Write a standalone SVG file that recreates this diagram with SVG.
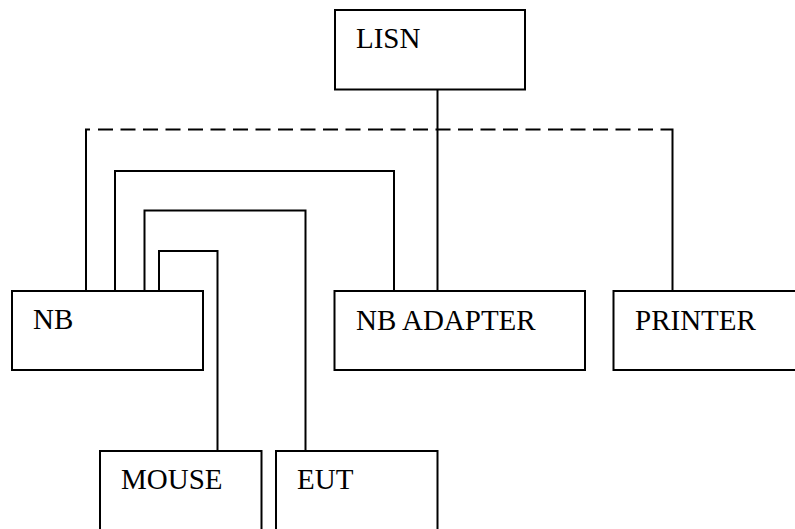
<svg xmlns="http://www.w3.org/2000/svg" width="795" height="529" viewBox="0 0 795 529">
<style>
.box{fill:#fff;stroke:#000;stroke-width:2}
.t{font-family:"Liberation Serif","Times New Roman",serif;font-size:29px;fill:#000}
.c{fill:none;stroke:#000;stroke-width:2}
.d{stroke-dasharray:15 7.5}
</style>
<rect width="795" height="529" fill="#fff"/>
<g id="connectors">
<path class="c" d="M86 291 V129.5 H90"/>
<path class="c d" d="M98 129.5 H665"/>
<path class="c" d="M665 129.5 H672.5 V291"/>
<path class="c" d="M437.5 89.5 V291"/>
<path class="c" d="M115 291 V171 H394 V291"/>
<path class="c" d="M144.5 291 V210.5 H305.5 V451"/>
<path class="c" d="M159 291 V251 H217.5 V451"/>
</g>
<g id="lisn"><rect class="box" x="335" y="10" width="190" height="79.5"/><text class="t" x="356" y="48">LISN</text></g>
<g id="nb"><rect class="box" x="12" y="291" width="191" height="79"/><text class="t" x="33" y="329">NB</text></g>
<g id="nbadapter"><rect class="box" x="334.5" y="291" width="250.5" height="79"/><text class="t" x="356" y="330">NB ADAPTER</text></g>
<g id="printer"><rect class="box" x="613.5" y="291" width="200" height="79"/><text class="t" x="635" y="330">PRINTER</text></g>
<g id="mouse"><rect class="box" x="100" y="451" width="161.5" height="100"/><text class="t" x="121" y="489">MOUSE</text></g>
<g id="eut"><rect class="box" x="276" y="451" width="161.5" height="100"/><text class="t" x="297" y="489">EUT</text></g>
</svg>
